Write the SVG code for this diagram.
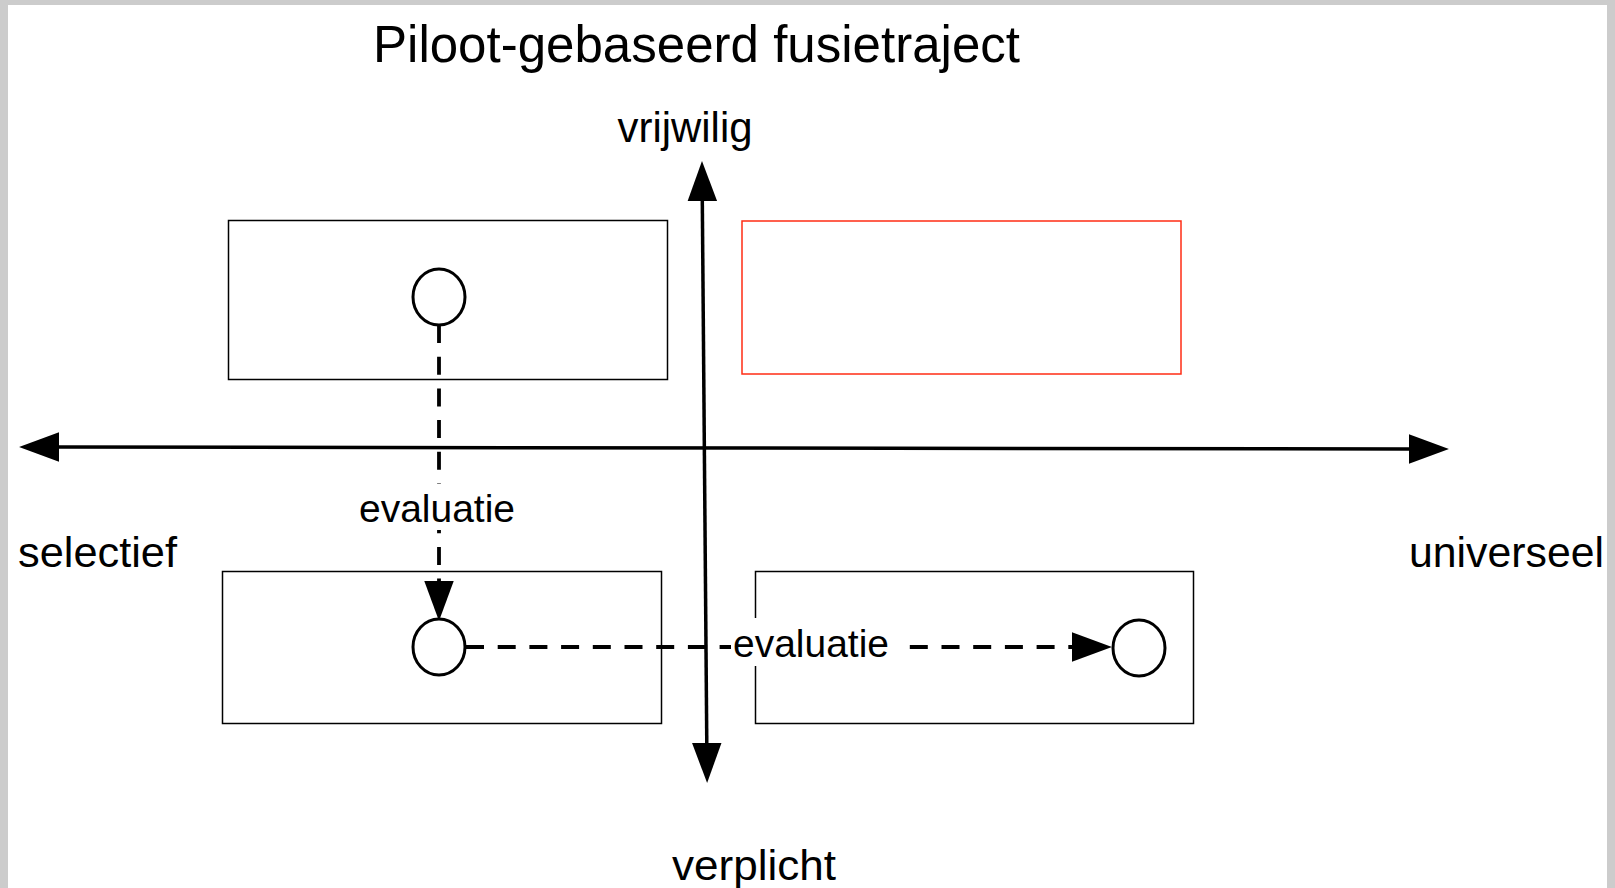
<svg xmlns="http://www.w3.org/2000/svg" width="1615" height="888" viewBox="0 0 1615 888">
<style>
.box{fill:none;stroke:#000;stroke-width:1.5}
.red{fill:none;stroke:#ff2d14;stroke-width:1.5}
.axis{fill:none;stroke:#000;stroke-width:3.5}
.dash{fill:none;stroke:#000;stroke-width:3.8;stroke-dasharray:18 13.7}
.node{fill:#fff;stroke:#000;stroke-width:3}
.lbl{font-family:"Liberation Sans",Arial,sans-serif;fill:#000}
.bg{fill:#fff}
</style>
<defs>
<marker id="ah" markerUnits="userSpaceOnUse" markerWidth="40" markerHeight="30" viewBox="0 0 38 28" refX="1" refY="14" orient="auto-start-reverse">
<path d="M0,0 L38,14 L0,28 Z" fill="#000"/>
</marker>
</defs>
<rect x="0" y="0" width="1615" height="888" fill="#fff"/>
<path d="M0,0 H1615 V888 H1607 V5 H8 V888 H0 Z" fill="#cccccc"/>
<text class="lbl" x="373" y="62" font-size="52" textLength="647" lengthAdjust="spacingAndGlyphs">Piloot-gebaseerd fusietraject</text>
<g id="box-top-left"><rect class="box" x="228.5" y="220.5" width="439" height="159"/></g>
<g id="box-top-right"><rect class="red" x="742" y="221" width="439" height="153"/></g>
<g id="box-bottom-left"><rect class="box" x="222.5" y="571.5" width="439" height="152"/></g>
<g id="box-bottom-right"><rect class="box" x="755.5" y="571.5" width="438" height="152"/></g>
<g id="connectors">
<line class="axis" x1="58" y1="447" x2="1410" y2="449" marker-start="url(#ah)" marker-end="url(#ah)"/>
<line class="axis" x1="702.3" y1="200" x2="706.8" y2="744" marker-start="url(#ah)" marker-end="url(#ah)"/>
<line class="dash" x1="439" y1="325" x2="439" y2="582" marker-end="url(#ah)"/>
<line class="dash" x1="466" y1="647" x2="1073" y2="647" marker-end="url(#ah)"/>
<rect class="bg" x="356" y="484" width="160" height="46"/>
<text class="lbl" x="437" y="522" font-size="39" text-anchor="middle">evaluatie</text>
<rect class="bg" x="731" y="618" width="168" height="48"/>
<text class="lbl" x="733" y="657" font-size="39" textLength="156" lengthAdjust="spacingAndGlyphs">evaluatie</text>
</g>
<g id="node-top"><ellipse class="node" cx="439" cy="297" rx="26" ry="28"/></g>
<g id="node-bottom-left"><ellipse class="node" cx="439" cy="647" rx="26" ry="28"/></g>
<g id="node-bottom-right"><ellipse class="node" cx="1139" cy="648" rx="26" ry="28"/></g>
<g id="labels">
<text class="lbl" x="685" y="142" font-size="42" text-anchor="middle" textLength="135" lengthAdjust="spacingAndGlyphs">vrijwilig</text>
<text class="lbl" x="18" y="567" font-size="42" textLength="159" lengthAdjust="spacingAndGlyphs">selectief</text>
<text class="lbl" x="1409" y="567" font-size="42" textLength="195" lengthAdjust="spacingAndGlyphs">universeel</text>
<text class="lbl" x="672" y="880" font-size="42" textLength="164" lengthAdjust="spacingAndGlyphs">verplicht</text>
</g>
</svg>
